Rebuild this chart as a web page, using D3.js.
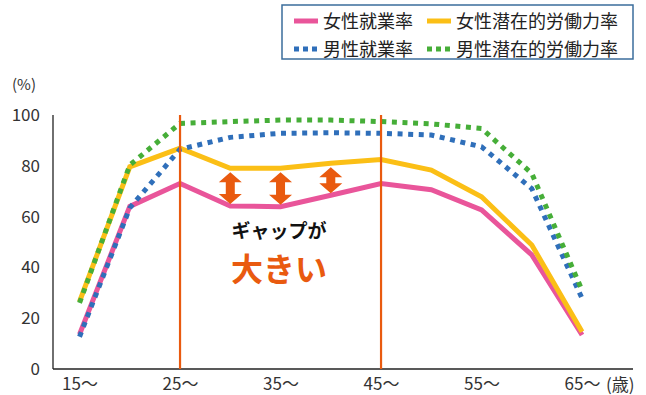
<!DOCTYPE html>
<html>
<head>
<meta charset="utf-8">
<script src="https://cdn.jsdelivr.net/npm/d3@7"></script>
<style>
  body { margin: 0; background: #fff; }
  text { font-family: "Noto Sans CJK JP", "Noto Sans", sans-serif; }
  .axis text { font-size: 17px; fill: #333; }
  .axis path { stroke: #222; stroke-width: 1.3; }
</style>
</head>
<body>
<div id="chart"></div>
<script>
// age groups (start of each 5-year band)
const ages = [15, 20, 25, 30, 35, 40, 45, 50, 55, 60, 65];
const xTicks = [15, 25, 35, 45, 55, 65];
const yTicks = [0, 20, 40, 60, 80, 100];

const femaleEmp = [13.6, 64, 73, 64.2, 63.9, 68.4, 73, 70.6, 62.6, 44.9, 13.4];
const femalePot = [26.5, 79.6, 86.9, 79, 79, 81, 82.5, 78.3, 67.8, 48.8, 14.7];
const maleEmp   = [12.7, 63.4, 86.5, 91.2, 92.8, 93, 92.8, 92.1, 87.5, 71, 27.8];
const malePot   = [26, 80.3, 96.7, 97.4, 98, 98, 97.4, 96.5, 94.7, 77, 31];

const markAges = [25, 45];          // vertical guide lines
const arrowAges = [30, 35, 40];     // gap arrows

const series = [
  {name: "女性就業率", values: femaleEmp, color: "#e9559a", dash: null},
  {name: "女性潜在的労働力率", values: femalePot, color: "#fbbf16", dash: null},
  {name: "男性就業率", values: maleEmp, color: "#2f6fba", dash: "5,5.6"},
  {name: "男性潜在的労働力率", values: malePot, color: "#46ae38", dash: "5,5.6"}
];

const W = 646, H = 395;
const orange = "#e95a0f";

const svg = d3.select("#chart").append("svg")
  .attr("width", W).attr("height", H);

const x = d3.scaleLinear().domain([12.36, 70.07]).range([53, 633]);
const y = d3.scaleLinear().domain([0, 100]).range([369, 115]);

// axes
svg.append("g")
  .attr("class", "axis")
  .attr("transform", "translate(0,369)")
  .call(d3.axisBottom(x).tickValues(xTicks).tickSize(0).tickPadding(9)
        .tickFormat(d => d + "〜"))
  .call(g => g.select(".domain").attr("d", "M53,0H633"));

svg.append("g")
  .attr("class", "axis")
  .attr("transform", "translate(53,0)")
  .call(d3.axisLeft(y).tickValues(yTicks).tickSize(0).tickPadding(13))
  .call(g => g.select(".domain").attr("d", "M0,369V115"));

svg.append("text").attr("x", 12).attr("y", 90)
  .attr("font-size", 15).attr("fill", "#333").text("(%)");
svg.append("text").attr("x", 606).attr("y", 391)
  .attr("font-size", 17).attr("fill", "#333").text("(歳)");

// lines
const line = d3.line()
  .x((d, i) => x(ages[i]))
  .y(d => y(d));

series.forEach(s => {
  svg.append("path")
    .attr("d", line(s.values))
    .attr("fill", "none")
    .attr("stroke", s.color)
    .attr("stroke-width", 5)
    .attr("stroke-linejoin", "miter")
    .attr("stroke-dasharray", s.dash);
});

// vertical guide lines
svg.selectAll(".guide").data(markAges).enter().append("line")
  .attr("x1", d => x(d)).attr("x2", d => x(d))
  .attr("y1", y(100)).attr("y2", y(0))
  .attr("stroke", orange).attr("stroke-width", 2.2);

// double arrows between female lines
function arrowPath(cx, top, bot) {
  const hw = 11.5, sw = 4.5, hh = 10;
  return `M${cx},${top} L${cx + hw},${top + hh} L${cx + sw},${top + hh}
          L${cx + sw},${bot - hh} L${cx + hw},${bot - hh} L${cx},${bot}
          L${cx - hw},${bot - hh} L${cx - sw},${bot - hh} L${cx - sw},${top + hh}
          L${cx - hw},${top + hh} Z`;
}
arrowAges.forEach(a => {
  const i = ages.indexOf(a);
  svg.append("path")
    .attr("d", arrowPath(x(a), y(femalePot[i]) + 4, y(femaleEmp[i]) - 2))
    .attr("fill", orange);
});

svg.append("text").attr("x", 279).attr("y", 238)
  .attr("text-anchor", "middle").attr("font-size", 19)
  .attr("font-weight", "bold").attr("fill", "#111").text("ギャップが");
svg.append("text").attr("x", 279).attr("y", 281)
  .attr("text-anchor", "middle").attr("font-size", 32)
  .attr("font-weight", "bold").attr("fill", orange).text("大きい");

// legend
const legend = svg.append("g");
legend.append("rect")
  .attr("x", 282).attr("y", 5).attr("width", 351).attr("height", 54)
  .attr("fill", "#fff").attr("stroke", "#3b6d9c").attr("stroke-width", 1.5);

const legPos = [[294, 21], [427, 21], [294, 49], [427, 49]];
series.forEach((s, i) => {
  const [lx, ly] = legPos[i];
  legend.append("line")
    .attr("x1", lx).attr("x2", lx + 24)
    .attr("y1", ly).attr("y2", ly)
    .attr("stroke", s.color).attr("stroke-width", 5)
    .attr("stroke-dasharray", s.dash ? "5,4" : null);
  legend.append("text")
    .attr("x", lx + 29).attr("y", ly + 6.5)
    .attr("font-size", 18).attr("fill", "#222")
    .text(s.name);
});
</script>
</body>
</html>
